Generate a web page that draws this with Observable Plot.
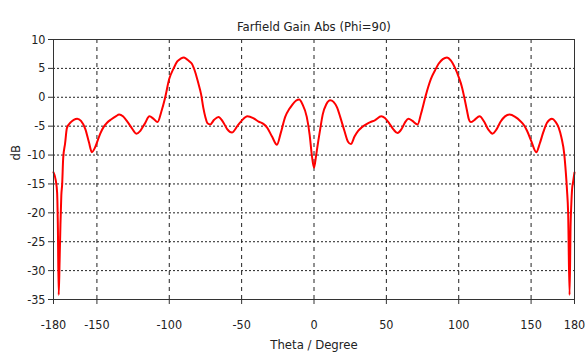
<!DOCTYPE html>
<html><head><meta charset="utf-8">
<script src="https://cdn.jsdelivr.net/npm/d3@7"></script>
<script src="https://cdn.jsdelivr.net/npm/@observablehq/plot@0.6"></script>
<style>html,body{margin:0;padding:0;background:#fff;overflow:hidden;width:585px;height:352px}
svg text{font-stretch:condensed}</style>
</head><body><div id="chart"></div>
<script>
const title = "Farfield Gain Abs (Phi=90)";
const xLabel = "Theta / Degree";
const yLabel = "dB";
const theta = [-180,-178.5,-177.5,-177,-176.4,-175.8,-175.2,-174.6,-174,-173.3,-172,-170.7,-168,-166,-163.6,-161,-158,-155.5,-153.5,-151.5,-149.5,-147.7,-145,-143,-140,-137,-134.6,-132,-129,-126,-122.8,-120,-117,-113.7,-111,-108.1,-105.5,-103,-100,-97,-94.5,-92,-90,-88,-86,-84.4,-82,-80,-78,-76.5,-75,-73.6,-71.7,-69,-66,-63,-60,-56.7,-53,-49.8,-46,-42,-38.3,-35,-32.5,-29,-25.6,-23,-19.9,-17,-15.3,-12.5,-10.2,-8,-5,-3,-1.5,0,1.5,3,4.3,6,8.5,11.2,13.5,16,18.1,21,23.5,25.5,28,30.5,33.1,36,38.9,42,46.5,49,52,55,57.7,60.5,63,65.3,68,71.6,74,76.9,78.8,80.8,83.5,86.1,89,91.9,94.5,97.6,100,102.2,104,105.7,107,108.4,111,114.4,117.5,120.5,123.4,126,129,132,135.1,139,142.5,145,147.2,150,153.6,156,158.5,161,164.4,166.8,169,171,172.9,174,174.8,175.6,176.6,177.3,177.8,178.3,179,180];
const gain = [-13,-14.3,-16.5,-22,-34.2,-28.5,-22,-17,-15,-10.5,-8,-5.3,-4.3,-3.9,-3.7,-4.1,-5.5,-7.8,-9.5,-8.8,-7.5,-6.3,-5,-4.4,-3.8,-3.3,-3,-3.3,-4.2,-5.3,-6.3,-5.8,-4.6,-3.3,-3.7,-4.3,-2.5,-0.2,3.2,5,6.2,6.7,6.9,6.6,6.2,5.8,4.3,2.5,0.5,-1.8,-3.5,-4.5,-4.7,-3.9,-3.4,-4.2,-5.5,-6.1,-5,-4,-3.3,-3.6,-4.2,-4.6,-5.2,-6.8,-8.2,-6.2,-3.4,-2,-1.4,-0.6,-0.4,-1.2,-3.4,-6.5,-10,-12.2,-10,-7.5,-5.5,-3,-1.2,-0.5,-0.8,-1.8,-3.4,-5.8,-7.7,-8.1,-6.8,-5.8,-5.2,-4.7,-4.3,-4,-3.3,-3.6,-4.5,-5.6,-6.2,-5.5,-4.3,-3.7,-4.1,-4.7,-2.8,0,1.7,3.2,4.6,5.8,6.6,6.9,6.4,5,3.5,1.8,-0.2,-2.3,-3.8,-4.3,-3.9,-3.3,-4.2,-5.6,-6.3,-5.6,-4.2,-3.3,-3,-3.4,-4.1,-4.8,-5.8,-7.5,-9.5,-8,-6,-4.4,-3.7,-4.2,-5.2,-7,-9.8,-13,-16,-20,-34.2,-22,-18.5,-16,-14.7,-13];
const xTicks = [-180,-150,-100,-50,0,50,100,150,180];
const yTicks = [-35,-30,-25,-20,-15,-10,-5,0,5,10];
const xGrid = [-150,-100,-50,0,50,100,150];
const yGrid = [-30,-25,-20,-15,-10,-5,0,5];
const data = theta.map((t,i)=>({theta:t, gain:gain[i]}));
const fmt = d => String(d);
const chart = Plot.plot({
  width:585, height:352, marginTop:39, marginLeft:53, marginRight:11, marginBottom:53,
  style:{fontFamily:"'DejaVu Sans Condensed','Liberation Sans Narrow',sans-serif", fontSize:"12px", color:"#222", background:"#fff"},
  x:{domain:[-180,180]}, y:{domain:[-35,10]},
  marks:[
    Plot.ruleX(xGrid,{stroke:"#222", strokeDasharray:"4,4", strokeWidth:1}),
    Plot.ruleY(yGrid,{stroke:"#222", strokeDasharray:"2,2", strokeWidth:1}),
    Plot.line(data,{x:"theta",y:"gain",stroke:"#ff0000",strokeWidth:2,curve:"monotone-x"}),
    Plot.frame({stroke:"#333"}),
    Plot.axisX({ticks:xTicks, tickFormat:fmt, tickSize:5, tickPadding:16, label:null, stroke:"#333", fontSize:12.5}),
    Plot.axisY({ticks:yTicks, tickFormat:fmt, tickSize:5, tickPadding:3, label:null, stroke:"#333", fontSize:12.5}),
    Plot.text([xLabel],{frameAnchor:"bottom", lineAnchor:"bottom", dy:49, fontSize:13}),
    Plot.text([yLabel],{frameAnchor:"left", rotate:-90, dx:-38, dy:-9, fontSize:13}),
    Plot.text([title],{frameAnchor:"top", lineAnchor:"bottom", dy:-9, fontSize:13})
  ]
});
document.getElementById("chart").append(chart);
</script></body></html>
